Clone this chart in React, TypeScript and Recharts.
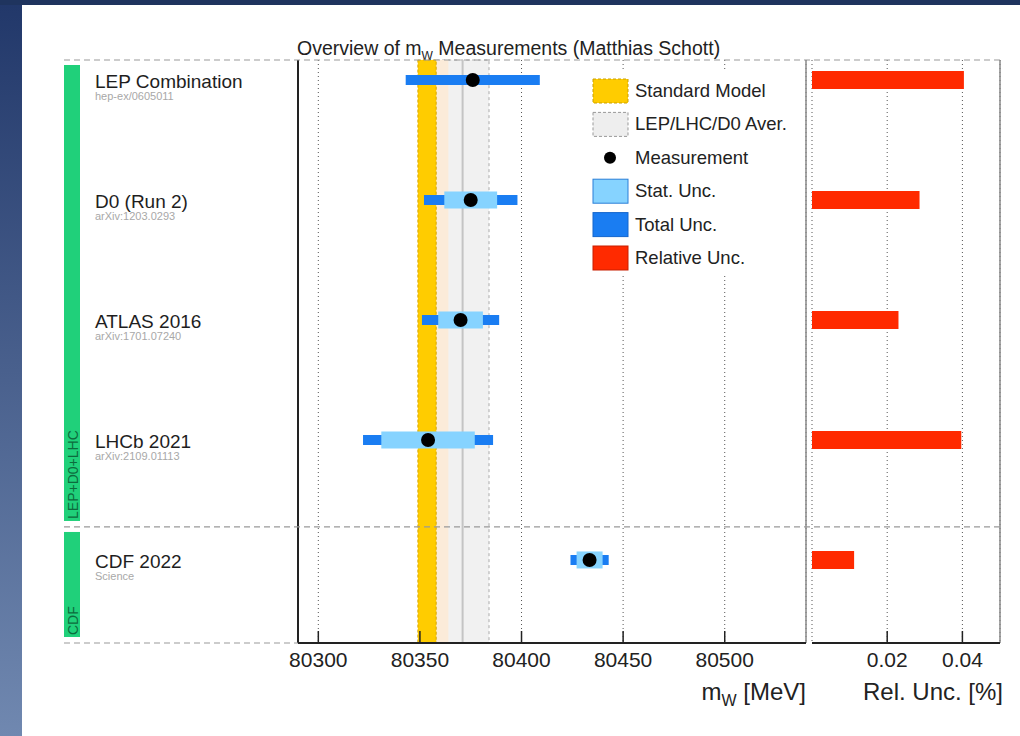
import {
  ComposedChart,
  Scatter,
  ErrorBar,
  XAxis,
  YAxis,
  CartesianGrid,
  ReferenceArea,
  ReferenceLine,
} from 'recharts'

// measurements, top to bottom
const experiments = ['LEP Combination', 'D0 (Run 2)', 'ATLAS 2016', 'LHCb 2021', 'CDF 2022']
const references = ['hep-ex/0605011', 'arXiv:1203.0293', 'arXiv:1701.07240', 'arXiv:2109.01113', 'Science']
const mwValues = [80376, 80375, 80370, 80354, 80433.5]
const totalUnc = [33, 23, 19, 32, 9.4]
const statUnc = [0, 13, 11, 23, 6.4]
const relUnc = [0.0404, 0.0286, 0.023, 0.0397, 0.0112]

// bands
const smBand = [80349, 80358]
const avgMass = 80371
const avgUnc = 13
const avgOverlap = [80358, 80364]

const massTicks = [80300, 80350, 80400, 80450, 80500]
const relTicks = [0.02, 0.04]
const massDomain = [80290, 80540]
const relDomain = [0, 0.05]

const groupNames = ['LEP+D0+LHC', 'CDF']
const groupSplits = [-0.1667, 3.725, 4.692] // row-axis bounds of each group

const legendItems = ['Standard Model', 'LEP/LHC/D0 Aver.', 'Measurement', 'Stat. Unc.', 'Total Unc.', 'Relative Unc.']

const FONT = '"Liberation Sans", Arial, Helvetica, sans-serif'
const W = 1020
const H = 736
const TOP = 60
const BOTTOM = 643
const MAIN_R = 806
const REL_L = 812
const REL_R = 1000

const rows = experiments.map((name, i) => ({
  row: i,
  name,
  mw: mwValues[i],
  tot: totalUnc[i],
  stat: statUnc[i],
  rel: relUnc[i],
  relErr: [relUnc[i], 0], // bar drawn from 0 up to the value
}))

const rowDomain: [number, number] = [groupSplits[0], groupSplits[groupSplits.length - 1]]
const yPix = (v: number) => TOP + ((v - rowDomain[0]) / (rowDomain[1] - rowDomain[0])) * (BOTTOM - TOP)

function RowLabel(props: any) {
  const { y, payload } = props
  const i = payload.value
  return (
    <g>
      <text x={95} y={y + 8} fontSize={19} fill="#1e1e1e" fontFamily={FONT}>
        {experiments[i]}
      </text>
      <text x={95} y={y + 20} fontSize={11} fill="#a8a8a8" fontFamily={FONT}>
        {references[i]}
      </text>
    </g>
  )
}

function Dot(props: any) {
  return <circle cx={props.cx} cy={props.cy} r={7} fill="#000" />
}

function NoDot() {
  return <g />
}

function LegendBox() {
  const x0 = 593
  const y0 = 91
  const step = 33.4
  const boxes = [
    { fill: '#ffcc00', stroke: '#c9a000', dash: '3 2' },
    { fill: '#eeeeee', stroke: '#999', dash: '3 2' },
    null,
    { fill: '#86d3ff', stroke: '#2a7fd8', dash: undefined },
    { fill: '#1a7df2', stroke: '#1466cc', dash: undefined },
    { fill: '#ff2a00', stroke: '#c81e00', dash: undefined },
  ]
  return (
    <g>
      <rect x={580} y={70} width={224} height={206} fill="#fff" />
      {legendItems.map((t, i) => {
        const cy = y0 + i * step
        const b = boxes[i]
        return (
          <g key={t}>
            {b ? (
              <rect x={x0} y={cy - 12} width={35} height={24} fill={b.fill} stroke={b.stroke} strokeDasharray={b.dash} />
            ) : (
              <circle cx={x0 + 17} cy={cy} r={6} fill="#000" />
            )}
            <text x={635} y={cy + 6} fontSize={18.5} fill="#222" fontFamily={FONT}>
              {t}
            </text>
          </g>
        )
      })}
    </g>
  )
}

const axisTick = { fill: '#222', fontSize: 21, fontFamily: FONT }

export default function App() {
  return (
    <div style={{ position: 'absolute', left: 0, top: 0, width: W, height: H, background: '#1f345e', overflow: 'hidden' }}>
      <div
        style={{
          position: 'absolute',
          left: 0,
          top: 5,
          width: 22,
          height: H - 5,
          background: 'linear-gradient(#22386a, #7088b0)',
        }}
      />
      <div style={{ position: 'absolute', left: 22, top: 5, width: W - 22, height: H - 5, background: '#fff' }} />

      <div style={{ position: 'absolute', left: 0, top: 0 }}>
        <ComposedChart width={W} height={H} data={rows} margin={{ top: TOP, right: W - MAIN_R, bottom: 0, left: 0 }}>
          <CartesianGrid horizontal={false} stroke="#555" strokeDasharray="1 3" />
          <XAxis
            type="number"
            dataKey="mw"
            domain={massDomain}
            ticks={massTicks}
            allowDataOverflow
            height={H - BOTTOM}
            tickSize={-12}
            tickMargin={21}
            tickLine={{ stroke: '#222', strokeWidth: 1.5 }}
            axisLine={{ stroke: '#222', strokeWidth: 2 }}
            tick={axisTick}
          />
          <YAxis
            type="number"
            dataKey="row"
            domain={rowDomain}
            ticks={rows.map((r) => r.row)}
            reversed
            allowDataOverflow
            width={298}
            tickLine={false}
            axisLine={{ stroke: '#222', strokeWidth: 2 }}
            tick={<RowLabel />}
          />
          <ReferenceArea x1={avgMass - avgUnc} x2={avgMass + avgUnc} fill="#f1f1f1" fillOpacity={1} stroke="#aaa" strokeDasharray="3 3" />
          <ReferenceArea x1={avgOverlap[0]} x2={avgOverlap[1]} fill="#fbebd9" fillOpacity={1} />
          <ReferenceLine x={avgMass} stroke="#c4c4c4" strokeWidth={2} />
          <ReferenceArea x1={smBand[0]} x2={smBand[1]} fill="#ffcc00" fillOpacity={1} stroke="#d8a800" strokeDasharray="3 2" />
          <ReferenceLine x={massDomain[1]} stroke="#888" strokeWidth={1.5} />
          <Scatter dataKey="mw" shape={<Dot />} isAnimationActive={false}>
            <ErrorBar dataKey="tot" direction="x" width={0} stroke="#1a7df2" strokeWidth={10} isAnimationActive={false} />
            <ErrorBar dataKey="stat" direction="x" width={0} stroke="#86d3ff" strokeWidth={17} isAnimationActive={false} />
          </Scatter>
        </ComposedChart>
      </div>

      <div style={{ position: 'absolute', left: 0, top: 0 }}>
        <ComposedChart width={W} height={H} data={rows} margin={{ top: TOP, right: W - REL_R, bottom: 0, left: REL_L }}>
          <CartesianGrid horizontal={false} stroke="#555" strokeDasharray="1 3" />
          <XAxis
            type="number"
            dataKey="rel"
            domain={relDomain}
            ticks={relTicks}
            allowDataOverflow
            height={H - BOTTOM}
            tickSize={-12}
            tickMargin={21}
            tickLine={{ stroke: '#222', strokeWidth: 1.5 }}
            axisLine={{ stroke: '#222', strokeWidth: 2 }}
            tick={axisTick}
          />
          <YAxis
            type="number"
            dataKey="row"
            domain={rowDomain}
            reversed
            allowDataOverflow
            width={0}
            tick={false}
            tickLine={false}
            axisLine={{ stroke: '#222', strokeWidth: 2 }}
          />
          <ReferenceLine x={relDomain[1]} stroke="#888" strokeWidth={1.5} />
          <Scatter dataKey="rel" shape={<NoDot />} isAnimationActive={false}>
            <ErrorBar dataKey="relErr" direction="x" width={0} stroke="#ff2a00" strokeWidth={18} isAnimationActive={false} />
          </Scatter>
        </ComposedChart>
      </div>

      <svg width={W} height={H} style={{ position: 'absolute', left: 0, top: 0, pointerEvents: 'none' }}>
        {/* title */}
        <text x={297} y={55} fontSize={19.5} fill="#222" fontFamily={FONT}>
          Overview of m
          <tspan dy={5} fontSize={12}>W</tspan>
          <tspan dy={-5}> Measurements (Matthias Schott)</tspan>
        </text>

        {/* group separators */}
        {groupSplits.map((v, i) => (
          <line
            key={i}
            x1={64}
            x2={i === groupSplits.length - 1 ? 298 : REL_R}
            y1={yPix(v)}
            y2={yPix(v)}
            stroke="#999"
            strokeWidth={1.2}
            strokeDasharray="6 4"
          />
        ))}

        {/* group bars */}
        {groupNames.map((g, i) => {
          const y1 = yPix(groupSplits[i]) + 5
          const y2 = yPix(groupSplits[i + 1]) - 6
          return (
            <g key={g}>
              <rect x={64} y={y1} width={16} height={y2 - y1} fill="#20d07a" />
              <text
                x={0}
                y={0}
                transform={`translate(77.5, ${y2 - 2}) rotate(-90)`}
                fontSize={14}
                fill="#0d6b3d"
                fontFamily={FONT}
              >
                {g}
              </text>
            </g>
          )
        })}

        <LegendBox />

        {/* axis titles */}
        <text x={MAIN_R} y={700} textAnchor="end" fontSize={24} fill="#222" fontFamily={FONT}>
          m<tspan dy={6} fontSize={16}>W</tspan>
          <tspan dy={-6}> [MeV]</tspan>
        </text>
        <text x={REL_R + 3} y={700} textAnchor="end" fontSize={24} fill="#222" fontFamily={FONT}>
          Rel. Unc. [%]
        </text>
      </svg>
    </div>
  )
}
